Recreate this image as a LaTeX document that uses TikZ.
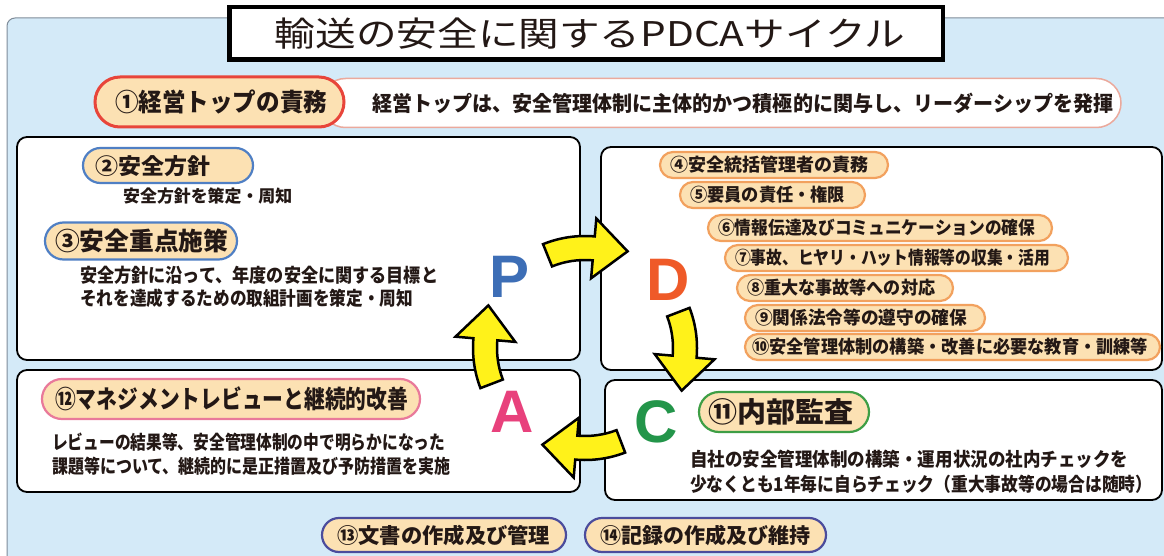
\documentclass[tikz,border=0pt]{standalone}
\usepackage{fontspec}
\usepackage{graphicx}
\setmainfont{Noto Sans CJK JP}
\newfontfamily\latinb{Liberation Sans}
\usetikzlibrary{shapes.misc,calc}
\definecolor{panel}{HTML}{D4EAF8}
\definecolor{panelline}{HTML}{7F8C99}
\definecolor{pillfill}{HTML}{FCE1B3}
\definecolor{redline}{HTML}{E8453A}
\definecolor{pinkline}{HTML}{EBA99C}
\definecolor{blueline}{HTML}{4F7FC4}
\definecolor{orangeline}{HTML}{F2A15E}
\definecolor{greenline}{HTML}{3E9E45}
\definecolor{magline}{HTML}{E9799A}
\definecolor{indigoline}{HTML}{4B4C9C}
\definecolor{txt}{HTML}{231815}
\definecolor{pblue}{HTML}{3D6EB6}
\definecolor{dorange}{HTML}{EF5A28}
\definecolor{apink}{HTML}{E8417C}
\definecolor{cgreen}{HTML}{23954A}
\definecolor{arrowyellow}{HTML}{FFF21A}
\newcommand{\fw}[2]{\resizebox{#1pt}{\height}{#2}}
\newcommand{\fs}[1]{\fontsize{#1}{#1}\selectfont}
\newcommand{\cyclearrow}[2]{%
  \path[cyc] (#1:112) arc[start angle=#1, end angle=#2, radius=112]
    -- (#2:130) -- ($(#2:100)+({#2-90}:34)$) -- (#2:70) -- (#2:88)
    arc[start angle=#2, end angle=#1, radius=88] -- cycle;}
\begin{document}
\begin{tikzpicture}[x=1pt,y=-1pt,
  pill/.style={rounded rectangle, fill=pillfill, inner sep=0pt, line width=2.2pt},
  box/.style={rectangle, draw=black, line width=1.8pt, fill=white, rounded corners=10pt, inner sep=0pt},
  lbl/.style={anchor=west, inner sep=0pt, text=txt, font=\bfseries},
  letter/.style={inner sep=0pt, font=\fs{60}\latinb\bfseries},
  cyc/.style={fill=arrowyellow, draw=black, line width=2.5pt, line join=miter}]
\useasboundingbox (0,0) rectangle (1164,556);
\clip (0,0) rectangle (1164,556);
\fill[white] (0,0) rectangle (1164,556);
\draw[draw=panelline, line width=1pt, fill=panel, rounded corners=8pt] (7,18) rectangle (1200,600);
% title
\node[rectangle, draw=black, line width=4.5pt, fill=white, minimum width=713.5, minimum height=52.5, inner sep=0pt] (titlebox) at (586,33.5) {};
\node[inner sep=0pt, text=txt, font=\fs{34}] (titletext) at (590,34) {\fw{630}{輸送の安全に関するPDCAサイクル}};
% leadership row
\node[rounded rectangle, draw=pinkline, line width=1.5pt, fill=white, minimum width=800, minimum height=49, inner sep=0pt] (leadpill) at (721,103) {};
\node[pill, draw=redline, line width=3pt, minimum width=249, minimum height=50] (p1) at (219.5,102) {};
\node[lbl, font=\fs{25}\bfseries] (t1) at (115,102) {\fw{212}{①経営トップの責務}};
\node[lbl, font=\fs{21}\bfseries] (t1b) at (372,103) {\fw{741}{経営トップは、安全管理体制に主体的かつ積極的に関与し、リーダーシップを発揮}};
% boxes
\node[box, minimum width=563, minimum height=223] (pbox) at (298.5,248.5) {};
\node[box, minimum width=561, minimum height=223] (dbox) at (881.5,258.5) {};
\node[box, minimum width=563, minimum height=122] (abox) at (298.5,431) {};
\node[box, minimum width=557, minimum height=120] (cbox) at (883.5,440) {};
% P contents
\node[pill, draw=blueline, minimum width=170, minimum height=35] (p2) at (168,165.5) {};
\node[lbl, font=\fs{22}\bfseries] (t2) at (95,166) {\fw{115}{②安全方針}};
\node[lbl, font=\fs{17}\bfseries] (t2b) at (123,196) {\fw{169}{安全方針を策定・周知}};
\node[pill, draw=blueline, minimum width=192, minimum height=37] (p3) at (141,241) {};
\node[lbl, font=\fs{25}\bfseries] (t3) at (55,241) {\fw{173}{③安全重点施策}};
\node[lbl, font=\fs{19}\bfseries] (t3b) at (80,275) {\fw{358}{安全方針に沿って、年度の安全に関する目標と}};
\node[lbl, font=\fs{19}\bfseries] (t3c) at (80,298) {\fw{333}{それを達成するための取組計画を策定・周知}};
% D contents
\node[pill, draw=orangeline, minimum width=228, minimum height=26] (p4) at (774,165) {};
\node[lbl, font=\fs{18}\bfseries] (t4) at (670,165) {\fw{198}{④安全統括管理者の責務}};
\node[pill, draw=orangeline, minimum width=185, minimum height=26] (p5) at (772.5,195) {};
\node[lbl, font=\fs{18}\bfseries] (t5) at (690,195) {\fw{155}{⑤要員の責任・権限}};
\node[pill, draw=orangeline, minimum width=344, minimum height=26] (p6) at (880,228) {};
\node[lbl, font=\fs{18}\bfseries] (t6) at (718,228) {\fw{317}{⑥情報伝達及びコミュニケーションの確保}};
\node[pill, draw=orangeline, minimum width=343, minimum height=26] (p7) at (896.5,258) {};
\node[lbl, font=\fs{18}\bfseries] (t7) at (735,258) {\fw{315}{⑦事故、ヒヤリ・ハット情報等の収集・活用}};
\node[pill, draw=orangeline, minimum width=216, minimum height=26] (p8) at (845,288) {};
\node[lbl, font=\fs{18}\bfseries] (t8) at (747,288) {\fw{188}{⑧重大な事故等への対応}};
\node[pill, draw=orangeline, minimum width=240, minimum height=26] (p9) at (865,318) {};
\node[lbl, font=\fs{18}\bfseries] (t9) at (755,318) {\fw{212}{⑨関係法令等の遵守の確保}};
\node[pill, draw=orangeline, minimum width=415, minimum height=26] (p10) at (952.5,347) {};
\node[lbl, font=\fs{18}\bfseries] (t10) at (752,347) {\fw{396}{⑩安全管理体制の構築・改善に必要な教育・訓練等}};
% A contents
\node[pill, draw=magline, minimum width=378, minimum height=40] (p12) at (231,399) {};
\node[lbl, font=\fs{25}\bfseries] (t12) at (55,399) {\fw{353}{⑫マネジメントレビューと継続的改善}};
\node[lbl, font=\fs{19}\bfseries] (t12b) at (52,442) {\fw{393}{レビューの結果等、安全管理体制の中で明らかになった}};
\node[lbl, font=\fs{19}\bfseries] (t12c) at (52,466) {\fw{398}{課題等について、継続的に是正措置及び予防措置を実施}};
% C contents
\node[pill, draw=greenline, minimum width=170, minimum height=40] (p11) at (784,412) {};
\node[lbl, font=\fs{28}\bfseries] (t11) at (708,412) {\fw{145}{⑪内部監査}};
\node[lbl, font=\fs{19}\bfseries] (t11b) at (690,459) {\fw{438}{自社の安全管理体制の構築・運用状況の社内チェックを}};
\node[lbl, font=\fs{19}\bfseries] (t11c) at (690,484) {\fw{462}{少なくとも1年毎に自らチェック（重大事故等の場合は随時）}};
% bottom
\node[pill, draw=indigoline, minimum width=244, minimum height=34] (p13) at (444,535) {};
\node[lbl, font=\fs{21}\bfseries] (t13) at (337,535) {\fw{213}{⑬文書の作成及び管理}};
\node[pill, draw=indigoline, minimum width=241, minimum height=34] (p14) at (705.5,535) {};
\node[lbl, font=\fs{21}\bfseries] (t14) at (600,535) {\fw{210}{⑭記録の作成及び維持}};
% letters
\node[letter, text=pblue] (P) at (510,277) {P};
\node[letter, text=dorange] (D) at (668,280) {D};
\node[letter, text=apink] (A) at (512,412) {A};
\node[letter, text=cgreen] (C) at (656,422) {C};
% cycle arrows
\begin{scope}[shift={(585,348)}, yscale=-1]
  \cyclearrow{112}{85}
  \cyclearrow{21}{-5}
  \cyclearrow{-69}{-95}
  \cyclearrow{-159}{-185}
\end{scope}
\end{tikzpicture}
\end{document}
